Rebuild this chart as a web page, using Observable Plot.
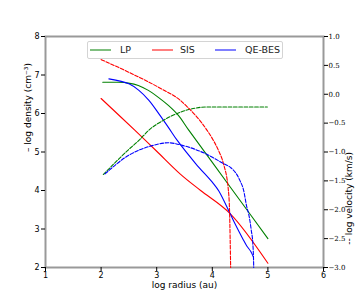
<!DOCTYPE html>
<html><head><meta charset="utf-8">
<script src="https://cdn.jsdelivr.net/npm/d3@7"></script>
<script src="https://cdn.jsdelivr.net/npm/@observablehq/plot@0.6"></script>
<style>
body{margin:0;background:#fff}
#wrap{position:relative;width:360px;height:300px;font-family:"DejaVu Sans",sans-serif}
.leg{position:absolute;left:87px;top:41px;width:194px;height:16px;border:1px solid #d4d4d4;border-radius:2px;background:rgba(255,255,255,0.8)}
.sw{position:absolute;top:7px;width:21px;height:2px}
.lt{position:absolute;top:1px;font-size:9.5px;color:#222;line-height:14px}
</style></head>
<body><div id="wrap"></div>
<script>
// radius ticks, density ticks, velocity ticks
const xTicks = [1, 2, 3, 4, 5, 6];
const densTicks = [2, 3, 4, 5, 6, 7, 8];
const velTicks = [1.0, 0.5, 0.0, -0.5, -1.0, -1.5, -2.0, -2.5, -3.0];

// LP
const rLPd = [2.03, 2.3, 2.49, 2.67, 2.85, 3.03, 3.21, 3.39, 3.57, 4.0, 4.5, 5.0];
const dLP  = [6.81, 6.81, 6.79, 6.73, 6.60, 6.42, 6.21, 5.95, 5.58, 4.73, 3.74, 2.75];
const rLPv = [2.04, 2.47, 2.7, 2.85, 3.14, 3.43, 3.52, 3.7, 3.88, 4.2, 4.6, 4.99];
const vLP  = [-1.39, -0.98, -0.78, -0.63, -0.44, -0.31, -0.28, -0.24, -0.22, -0.22, -0.22, -0.22];

// SIS
const rSISd = [2.0, 2.61, 3.0, 3.43, 3.79, 4.32, 5.0];
const dSIS  = [6.39, 5.56, 5.02, 4.42, 4.0, 3.40, 2.11];
const rSISv = [2.0, 2.5, 3.09, 3.43, 3.52, 3.91, 4.02, 4.11, 4.2, 4.29, 4.31, 4.33];
const vSIS  = [0.60, 0.38, 0.09, -0.11, -0.19, -0.63, -0.80, -0.97, -1.2, -1.67, -2.01, -3.0];

// QE-BES
const rQEd = [2.14, 2.5, 2.68, 2.86, 3.04, 3.21, 3.37, 3.7, 4.02, 4.12, 4.32, 4.40, 4.47, 4.55, 4.62, 4.69, 4.74];
const dQE  = [6.90, 6.77, 6.60, 6.34, 5.99, 5.64, 5.30, 4.70, 4.18, 3.98, 3.40, 3.16, 2.96, 2.74, 2.56, 2.42, 2.27];
const rQEv = [2.07, 2.49, 2.92, 3.21, 3.48, 3.88, 4.2, 4.33, 4.42, 4.5, 4.56, 4.62, 4.66, 4.7, 4.73, 4.74, 4.745];
const vQE  = [-1.38, -1.06, -0.89, -0.84, -0.89, -1.03, -1.2, -1.27, -1.36, -1.5, -1.65, -1.95, -2.1, -2.35, -2.6, -2.8, -3.0];

const series = ["LP", "SIS", "QE-BES"];
const colors = ["#008000", "#ff0000", "#0000ff"];

// velocity axis [-3,1] placed onto the density axis [2,8]
const vToD = v => 2 + (v + 3) * 1.5;
const dToV = d => (d - 2) / 1.5 - 3;

const dens = [], vel = [];
[[rLPd, dLP, "LP"], [rSISd, dSIS, "SIS"], [rQEd, dQE, "QE-BES"]].forEach(([rs, ds, s]) =>
  rs.forEach((r, i) => dens.push({r, y: ds[i], s})));
[[rLPv, vLP, "LP"], [rSISv, vSIS, "SIS"], [rQEv, vQE, "QE-BES"]].forEach(([rs, vs, s]) =>
  rs.forEach((r, i) => vel.push({r, y: vToD(vs[i]), s})));

const fmt = d3.format(".1f");

const chart = Plot.plot({
  width: 360, height: 300,
  marginLeft: 45, marginRight: 37, marginTop: 36, marginBottom: 33,
  style: {fontFamily: "DejaVu Sans, sans-serif", fontSize: "8px", background: "#fff"},
  x: {domain: [1, 6]},
  y: {domain: [2, 8]},
  color: {domain: series, range: colors},
  marks: [
    Plot.frame({stroke: "#999", strokeWidth: 2}),
    Plot.line(dens, {x: "r", y: "y", z: "s", stroke: "s", strokeWidth: 1.1, curve: "catmull-rom"}),
    Plot.line(vel, {x: "r", y: "y", z: "s", stroke: "s", strokeWidth: 1.1, strokeDasharray: "3.7,1.6", curve: "monotone-x"}),
    Plot.axisX({ticks: xTicks, tickSize: 4, tickPadding: 1, tickFormat: d => String(d), label: null}),
    Plot.axisY({anchor: "left", ticks: densTicks, tickSize: 4, tickPadding: 2, tickFormat: d => String(d), label: null}),
    Plot.axisY({anchor: "right", ticks: velTicks.map(vToD), tickSize: 4, tickPadding: 1,
      tickFormat: d => fmt(dToV(d)), label: null, fontFamily: "DejaVu Serif, serif", fontSize: 7}),
    Plot.text(["\u2013 log density (cm\u207B\u00B3)"], {text: d => d, frameAnchor: "left", dx: -17, rotate: -90, fontSize: 9}),
    Plot.text(["-- log velocity (km/s)"], {text: d => d, frameAnchor: "right", dx: 26, rotate: -90, fontSize: 9}),
    Plot.text(["log radius (au)"], {text: d => d, frameAnchor: "bottom", dy: 20, fontSize: 9})
  ]
});

const wrap = document.getElementById("wrap");
wrap.appendChild(chart);

const leg = document.createElement("div");
leg.className = "leg";
const swLeft = [2, 64, 127], txtLeft = [32, 92, 157];
const legColors = ["rgba(0,128,0,0.5)", "rgba(255,0,0,0.5)", "rgba(0,0,255,0.5)"];
series.forEach((s, i) => {
  const sw = document.createElement("div");
  sw.className = "sw"; sw.style.left = swLeft[i] + "px"; sw.style.background = legColors[i];
  const t = document.createElement("div");
  t.className = "lt"; t.style.left = txtLeft[i] + "px"; t.textContent = s;
  leg.appendChild(sw); leg.appendChild(t);
});
wrap.appendChild(leg);
</script>
</body></html>
